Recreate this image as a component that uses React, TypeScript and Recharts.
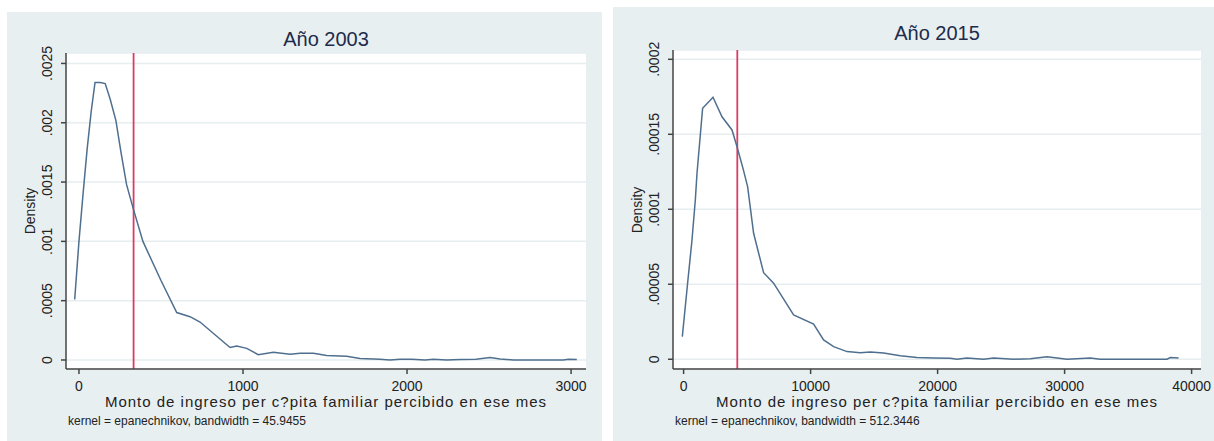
import React from "react";
import { LineChart, Line, XAxis, YAxis, CartesianGrid, ReferenceLine } from "recharts";

// Año 2003 - kernel density of per capita income
const income2003 = [
  -26, 0, 25, 50, 75, 98, 130, 160, 190, 225, 255, 290, 330, 390, 413, 500, 596, 677, 738, 840,
  921, 962, 1023, 1093, 1185, 1287, 1348, 1429, 1510, 1632, 1713, 1835, 1896, 1957, 2030, 2110,
  2160, 2242, 2323, 2420, 2506, 2567, 2648, 2800, 2953, 2984, 3035,
];
const density2003 = [
  0.00051, 0.001, 0.0014, 0.00178, 0.0021, 0.00234, 0.00234, 0.00233, 0.0022, 0.00202, 0.00176,
  0.00148, 0.00128, 0.001, 0.00093, 0.00067, 0.0004, 0.000365, 0.00032, 0.0002, 0.000105, 0.000118,
  0.000098, 0.000045, 0.000065, 0.000048, 0.000056, 0.000056, 0.000038, 0.000032, 0.000012, 0.000006,
  0, 0.000006, 0.000006, 0, 0.000006, 0, 0.000004, 0.000006, 0.00002, 0.000008, 0, 0, 0, 0.000006,
  0.000004,
];
const xTicks2003 = [0, 1000, 2000, 3000];
const yTicks2003 = [0, 0.0005, 0.001, 0.0015, 0.002, 0.0025];
const yLabels2003 = ["0", ".0005", ".001", ".0015", ".002", ".0025"];
const mean2003 = 333;

// Año 2015
const income2015 = [
  -102, 315, 661, 921, 1055, 1496, 2315, 3024, 3811, 4205, 4677, 5040, 5512, 5646, 6299, 7087, 8661,
  10236, 11024, 11811, 12866, 13913, 14700, 15748, 17063, 18378, 19685, 21000, 21530, 22315, 23622,
  24410, 25984, 27300, 28614, 30189, 32024, 32812, 38063, 38323, 38976,
];
const density2015 = [
  0.0000151, 0.0000507, 0.0000795, 0.000106, 0.000124, 0.0001673, 0.0001747, 0.0001617, 0.0001529,
  0.0001417, 0.0001273, 0.0001151, 0.000084, 0.0000795, 0.0000577, 0.0000507, 0.0000295, 0.0000235,
  0.0000129, 0.0000084, 0.0000051, 0.0000044, 0.0000049, 0.0000042, 0.0000024, 0.0000011, 0.0000009,
  0.0000007, 0, 0.0000009, 0, 0.0000009, 0, 0.0000004, 0.0000017, 0, 0.0000009, 0, 0, 0.0000011,
  0.0000008,
];
const xTicks2015 = [0, 10000, 20000, 30000, 40000];
const yTicks2015 = [0, 0.00005, 0.0001, 0.00015, 0.0002];
const yLabels2015 = ["0", ".00005", ".0001", ".00015", ".0002"];
const mean2015 = 4228;

const xTitle = "Monto de ingreso per c?pita familiar percibido en ese mes";
const FONT = "'Liberation Sans', Arial, sans-serif";
const PANEL_BG = "#e8eff1";
const TEXT = "#222";

interface PanelProps {
  box: { x: number; y: number; w: number; h: number };
  plot: { l: number; t: number; r: number; b: number };
  title: string;
  titleY: number;
  xs: number[];
  ys: number[];
  xTicks: number[];
  yTicks: number[];
  yLabels: string[];
  xDomain: [number, number];
  yDomain: [number, number];
  mean: number;
  note: string;
}

const Panel: React.FC<PanelProps> = ({
  box, plot, title, titleY, xs, ys, xTicks, yTicks, yLabels, xDomain, yDomain, mean, note,
}) => {
  const data = xs.map((x, i) => ({ x, d: ys[i] }));
  const yw = 40;
  const xh = 30;
  const margin = {
    left: plot.l - box.x - yw,
    top: plot.t - box.y,
    right: box.x + box.w - plot.r,
    bottom: box.y + box.h - plot.b - xh,
  };
  const cx = (plot.l + plot.r) / 2;
  const cy = (plot.t + plot.b) / 2;

  const YTick = (props: any) => {
    const { x, y, payload } = props;
    const i = yTicks.indexOf(payload.value);
    return (
      <text
        x={x}
        y={y}
        transform={`rotate(-90, ${x}, ${y})`}
        textAnchor="middle"
        fontSize={14}
        fontFamily={FONT}
        fill={TEXT}
      >
        {i >= 0 ? yLabels[i] : ""}
      </text>
    );
  };

  return (
    <>
      <div
        style={{
          position: "absolute",
          left: box.x,
          top: box.y,
          width: box.w,
          height: box.h,
          background: PANEL_BG,
        }}
      >
        <LineChart width={box.w} height={box.h} data={data} margin={margin}>
          <CartesianGrid
            horizontal
            vertical={false}
            fill="#ffffff"
            stroke="#e6eef0"
            strokeWidth={1.5}
          />
          <XAxis
            dataKey="x"
            type="number"
            domain={xDomain}
            ticks={xTicks}
            allowDataOverflow
            height={xh}
            tickSize={5}
            tickMargin={7}
            stroke="#444"
            strokeWidth={1.5}
            tick={{ fontSize: 14, fontFamily: FONT, fill: TEXT }}
          />
          <YAxis
            type="number"
            domain={yDomain}
            ticks={yTicks}
            allowDataOverflow
            width={yw}
            tickSize={5}
            tickMargin={9}
            stroke="#444"
            strokeWidth={1.5}
            tick={YTick}
          />
          <ReferenceLine x={mean} stroke="#dc3c64" strokeWidth={1.8} ifOverflow="extendDomain" />
          <Line
            type="linear"
            dataKey="d"
            stroke="#4f6f8e"
            strokeWidth={1.5}
            dot={false}
            isAnimationActive={false}
          />
        </LineChart>
      </div>
      <div
        style={{
          position: "absolute",
          left: cx,
          top: titleY,
          transform: "translate(-50%, -50%)",
          fontSize: 20,
          fontFamily: FONT,
          color: "#1e2b4a",
          whiteSpace: "nowrap",
        }}
      >
        {title}
      </div>
      <div
        style={{
          position: "absolute",
          left: plot.l - 36,
          top: cy,
          transform: "translate(-50%, -50%) rotate(-90deg)",
          fontSize: 14,
          fontFamily: FONT,
          color: TEXT,
          whiteSpace: "nowrap",
        }}
      >
        Density
      </div>
      <div
        style={{
          position: "absolute",
          left: cx,
          top: 401,
          transform: "translate(-50%, -50%)",
          fontSize: 15,
          letterSpacing: 1,
          fontFamily: FONT,
          color: TEXT,
          whiteSpace: "nowrap",
        }}
      >
        {xTitle}
      </div>
      <div
        style={{
          position: "absolute",
          left: plot.l + 2,
          top: 421,
          transform: "translate(0, -50%)",
          fontSize: 12,
          fontFamily: FONT,
          color: TEXT,
          whiteSpace: "nowrap",
        }}
      >
        {note}
      </div>
    </>
  );
};

export default function App() {
  return (
    <div
      style={{
        position: "absolute",
        left: 0,
        top: 0,
        width: 1214,
        height: 441,
        background: "#ffffff",
        overflow: "hidden",
      }}
    >
      <Panel
        box={{ x: 7, y: 12, w: 595, h: 429 }}
        plot={{ l: 66, t: 53, r: 586, b: 369 }}
        title="Año 2003"
        titleY={39}
        xs={income2003}
        ys={density2003}
        xTicks={xTicks2003}
        yTicks={yTicks2003}
        yLabels={yLabels2003}
        xDomain={[-79, 3091]}
        yDomain={[-0.000076, 0.002588]}
        mean={mean2003}
        note="kernel = epanechnikov, bandwidth = 45.9455"
      />
      <Panel
        box={{ x: 613, y: 7, w: 601, h: 434 }}
        plot={{ l: 673, t: 50, r: 1201, b: 369 }}
        title="Año 2015"
        titleY={33}
        xs={income2015}
        ys={density2015}
        xTicks={xTicks2015}
        yTicks={yTicks2015}
        yLabels={yLabels2015}
        xDomain={[-835, 40740]}
        yDomain={[-0.0000065, 0.0002062]}
        mean={mean2015}
        note="kernel = epanechnikov, bandwidth = 512.3446"
      />
    </div>
  );
}
